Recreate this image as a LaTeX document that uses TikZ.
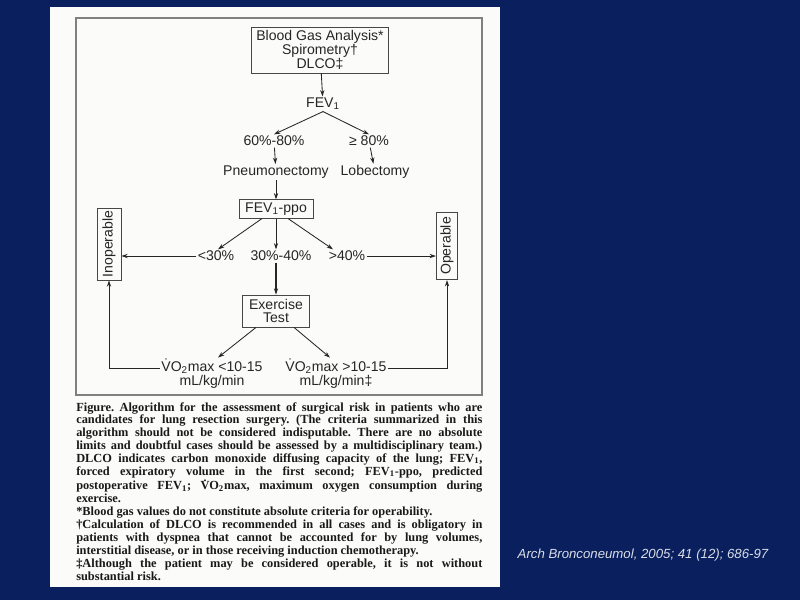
\documentclass[tikz,border=0pt]{standalone}
\usepackage{fontspec}
\setmainfont{Liberation Serif}
\setsansfont{Liberation Sans}
\usepackage{tikz}
\usetikzlibrary{arrows.meta}
\definecolor{navy}{HTML}{0A1F5E}
\definecolor{paper}{HTML}{FBFBFA}
\definecolor{ink}{HTML}{262626}
\definecolor{citegray}{HTML}{D9DDE6}

\begin{document}
\frenchspacing
\begin{tikzpicture}[
    x=0.025cm, y=-0.025cm,
    flowBox/.style={rectangle, draw=ink!85, line width=0.6pt, font=\sffamily\fontsize{10}{9.8}\selectfont, text=ink, align=center, inner sep=2pt},
    flowTxt/.style={font=\sffamily\fontsize{10}{10.5}\selectfont, text=ink, align=center, inner sep=1pt},
    sideBox/.style={flowBox, rotate=90},
    flowArrow/.style={-{Stealth[length=4.5pt,width=3pt]}, draw=ink, line width=0.6pt},
    capTxt/.style={font=\bfseries\fontsize{8.8}{9.15}\selectfont, text=black!90, text width=10.15cm, align=justify, inner sep=0pt},
    citeTxt/.style={font=\sffamily\itshape\fontsize{9.4}{11}\selectfont, text=citegray}
]
    \useasboundingbox (0,0) rectangle (800,600);
    \fill[navy] (0,0) rectangle (800,600);
    \fill[paper] (50,7) rectangle (500,587);
    \draw[black!50, line width=0.8pt] (76,18) rectangle (482,395);

    \node[flowBox, minimum width=3.43cm, minimum height=1.15cm] (tests) at (320,50) {Blood Gas Analysis*\\Spirometry†\\DLCO‡};
    \node[flowTxt] (fev) at (323,104) {FEV\textsubscript{1}};
    \node[flowTxt] (mid) at (274,141) {60\%-80\%};
    \node[flowTxt] (high) at (369,141) {≥ 80\%};
    \node[flowTxt] (pneu) at (276,172) {Pneumonectomy};
    \node[flowTxt] (lobe) at (375,172) {Lobectomy};
    \node[flowBox, minimum width=1.85cm, minimum height=0.45cm] (ppo) at (276,209) {FEV\textsubscript{1}-ppo};

    \node[flowTxt] (low) at (216,256) {<30\%};
    \node[flowTxt] (border) at (281,256) {30\%-40\%};
    \node[flowTxt] (safe) at (347,256) {>40\%};
    \node[sideBox, minimum width=1.8cm, minimum height=0.6cm] (inop) at (109,244) {Inoperable};
    \node[sideBox, minimum width=1.68cm, minimum height=0.53cm] (oper) at (447,246) {Operable};

    \node[flowBox, minimum width=1.68cm, minimum height=0.8cm] (exer) at (276,311) {Exercise\\Test};
    \node[flowTxt] (vlow) at (212,374) {\.{V}O\textsubscript{2}max <10-15\\mL/kg/min};
    \node[flowTxt] (vhigh) at (336,374) {\.{V}O\textsubscript{2}max >10-15\\mL/kg/min‡};

    \draw[flowArrow] (tests) -- (fev);
    \draw[flowArrow] (fev.south) -- (mid.north);
    \draw[flowArrow] (fev.south) -- (high.north);
    \draw[flowArrow] (mid) -- (pneu);
    \draw[flowArrow] (high) -- (lobe);
    \draw[flowArrow] (pneu) -- (ppo);
    \draw[flowArrow] ([xshift=-0.35cm]ppo.south) -- ([xshift=0.05cm]low.north);
    \draw[flowArrow] (ppo.south) -- (ppo.south |- border.north);
    \draw[flowArrow] ([xshift=0.3cm]ppo.south) -- ([xshift=-0.35cm]safe.north);
    \draw[flowArrow] (low.west) -- (low.west -| inop.south);
    \draw[flowArrow] (safe.east) -- (safe.east -| oper.north);
    \draw[flowArrow, line width=1pt] (border.south -| exer.north) -- (exer.north);
    \draw[flowArrow] ([xshift=-0.5cm]exer.south) -- ([xshift=0.15cm]vlow.north);
    \draw[flowArrow] ([xshift=0.45cm]exer.south) -- ([xshift=-0.15cm]vhigh.north);
    \draw[flowArrow] ([yshift=4pt]vlow.west) -| (inop.west);
    \draw[flowArrow] ([yshift=4pt]vhigh.east) -| (oper.west);

    \node[capTxt, anchor=north west] (cap) at (76,402) {
        Figure. Algorithm for the assessment of surgical risk in patients who are\linebreak
        candidates for lung resection surgery. (The criteria summarized in this\linebreak
        algorithm should not be considered indisputable. There are no absolute\linebreak
        limits and doubtful cases should be assessed by a multidisciplinary team.)\linebreak
        DLCO indicates carbon monoxide diffusing capacity of the lung; FEV\textsubscript{1},\linebreak
        forced expiratory volume in the first second; FEV\textsubscript{1}-ppo, predicted\linebreak
        postoperative FEV\textsubscript{1}; \.{V}O\textsubscript{2}max, maximum oxygen consumption during\linebreak
        exercise.\\
        {*}Blood gas values do not constitute absolute criteria for operability.\\
        †Calculation of DLCO is recommended in all cases and is obligatory in\linebreak
        patients with dyspnea that cannot be accounted for by lung volumes,\linebreak
        interstitial disease, or in those receiving induction chemotherapy.\\
        ‡Although the patient may be considered operable, it is not without\linebreak
        substantial risk.
    };

    \node[citeTxt] (cite) at (643,555) {Arch Bronconeumol, 2005; 41 (12); 686-97};
\end{tikzpicture}
\end{document}
